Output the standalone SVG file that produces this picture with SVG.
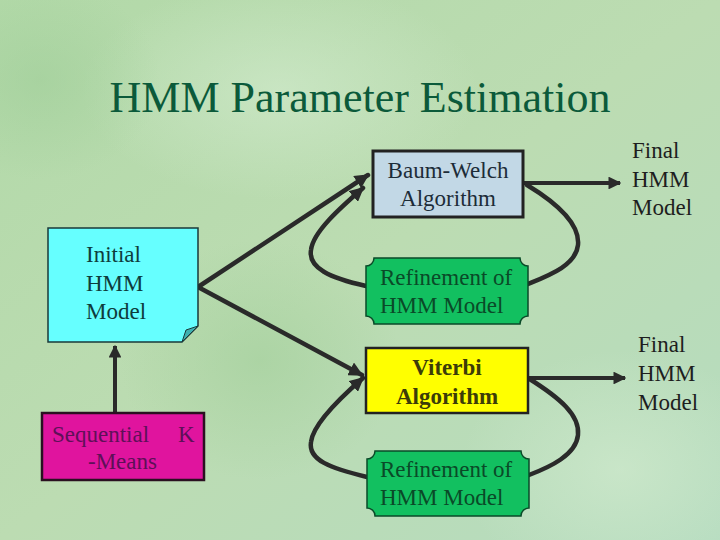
<svg xmlns="http://www.w3.org/2000/svg" width="720" height="540" viewBox="0 0 720 540">
  <defs>
    <linearGradient id="bg" x1="0" y1="0" x2="1" y2="1">
      <stop offset="0" stop-color="#b2d9a8"/>
      <stop offset="0.5" stop-color="#bcdcb2"/>
      <stop offset="1" stop-color="#b6dcc0"/>
    </linearGradient>
    <radialGradient id="spot1" cx="0.5" cy="0.5" r="0.5">
      <stop offset="0" stop-color="#d4ecd0" stop-opacity="0.6"/>
      <stop offset="1" stop-color="#d4ecd0" stop-opacity="0"/>
    </radialGradient>
    <radialGradient id="spot2" cx="0.5" cy="0.5" r="0.5">
      <stop offset="0" stop-color="#9ccc96" stop-opacity="0.5"/>
      <stop offset="1" stop-color="#9ccc96" stop-opacity="0"/>
    </radialGradient>
    <marker id="arr" viewBox="0 0 10 10" refX="9" refY="5" markerWidth="3.2" markerHeight="3.2" orient="auto" markerUnits="strokeWidth">
      <path d="M0,0 L10,5 L0,10 Z" fill="#2a2a2a"/>
    </marker>
    <style>
      text { font-family: "Liberation Serif", "Times New Roman", serif; font-size: 23px; }
      .conn { fill: none; stroke: #2a2a2a; stroke-width: 4.5; stroke-linecap: round; }
      .thin { fill: none; stroke: #2a2a2a; stroke-width: 4; }
      .refine { fill: #12c060; stroke: #0a4a28; stroke-width: 1.5; }
      .reftxt { fill: #0a4a28; }
    </style>
  </defs>

  <rect width="720" height="540" fill="url(#bg)"/>
  <ellipse cx="280" cy="90" rx="200" ry="110" fill="url(#spot1)"/>
  <ellipse cx="620" cy="470" rx="160" ry="120" fill="url(#spot1)"/>
  <ellipse cx="260" cy="360" rx="140" ry="120" fill="url(#spot2)"/>
  <ellipse cx="40" cy="80" rx="120" ry="100" fill="url(#spot2)"/>

  <g font-family="'Liberation Serif', 'Times New Roman', serif">
  <text id="title" x="360" y="112" text-anchor="middle" font-size="44" style="font-size:44px" fill="#0b5a3a">HMM Parameter Estimation</text>

  <g id="connectors">
    <line class="thin" x1="115" y1="413" x2="115" y2="346" marker-end="url(#arr)"/>
    <line class="conn" x1="198" y1="287" x2="368" y2="175" marker-end="url(#arr)"/>
    <line class="conn" x1="198" y1="287" x2="362" y2="375" marker-end="url(#arr)"/>
    <line class="thin" x1="523" y1="183" x2="620" y2="183" marker-end="url(#arr)"/>
    <line class="thin" x1="528" y1="378" x2="625" y2="378" marker-end="url(#arr)"/>
    <path class="conn" d="M527,185 C560,205 580,225 578,245 C576,265 550,275 528,284"/>
    <path class="conn" d="M366,286 C330,278 308,268 311,250 C313,232 340,208 363,188" marker-end="url(#arr)"/>
    <path class="conn" d="M528,378 C560,398 580,415 578,435 C576,455 550,467 529,475"/>
    <path class="conn" d="M367,477 C330,468 308,460 311,442 C313,424 340,398 363,378" marker-end="url(#arr)"/>
  </g>

  <g id="initial">
    <path d="M48,228 H198 V326 L182,342 H48 Z" fill="#66ffff" stroke="#1a3a3a" stroke-width="1.5"/>
    <path d="M198,326 L182,342 L186,330 Z" fill="#3fb0b0" stroke="#1a3a3a" stroke-width="1"/>
    <text x="86" y="262" fill="#0e3c3c">Initial</text>
    <text x="86" y="291" fill="#0e3c3c">HMM</text>
    <text x="86" y="319" fill="#0e3c3c">Model</text>
  </g>

  <g id="kmeans">
    <rect x="42" y="413" width="162" height="67" fill="#e0149e" stroke="#2a1020" stroke-width="2.5"/>
    <text x="52" y="442" fill="#5e1058">Sequential</text>
    <text x="178" y="442" fill="#5e1058">K</text>
    <text x="88" y="469" fill="#5e1058">-Means</text>
  </g>

  <g id="baumwelch">
    <rect x="373" y="151" width="150" height="66" fill="#c2d8e6" stroke="#222" stroke-width="3"/>
    <text x="448" y="178" text-anchor="middle" fill="#1c2c38">Baum-Welch</text>
    <text x="448" y="206" text-anchor="middle" fill="#1c2c38">Algorithm</text>
  </g>

  <g id="refine1">
    <path class="refine" d="M374,258 H520 A8,8 0 0 0 528,266 V316 A8,8 0 0 0 520,324 H374 A8,8 0 0 0 366,316 V266 A8,8 0 0 0 374,258 Z"/>
    <text class="reftxt" x="380" y="285">Refinement of</text>
    <text class="reftxt" x="380" y="313">HMM Model</text>
  </g>

  <g id="viterbi">
    <rect x="366" y="348" width="162" height="65" fill="#ffff00" stroke="#222" stroke-width="2.5"/>
    <text x="447" y="375" text-anchor="middle" font-weight="bold" fill="#3c3c08">Viterbi</text>
    <text x="447" y="404" text-anchor="middle" font-weight="bold" fill="#3c3c08">Algorithm</text>
  </g>

  <g id="refine2">
    <path class="refine" d="M375,451 H521 A8,8 0 0 0 529,459 V508 A8,8 0 0 0 521,516 H375 A8,8 0 0 0 367,508 V459 A8,8 0 0 0 375,451 Z"/>
    <text class="reftxt" x="380" y="477">Refinement of</text>
    <text class="reftxt" x="380" y="505">HMM Model</text>
  </g>

  <g id="final1">
    <text x="632" y="158" fill="#1e1e1e">Final</text>
    <text x="632" y="187" fill="#1e1e1e">HMM</text>
    <text x="632" y="215" fill="#1e1e1e">Model</text>
  </g>

  <g id="final2">
    <text x="638" y="352" fill="#1e1e1e">Final</text>
    <text x="638" y="381" fill="#1e1e1e">HMM</text>
    <text x="638" y="410" fill="#1e1e1e">Model</text>
  </g>
  </g>
</svg>
